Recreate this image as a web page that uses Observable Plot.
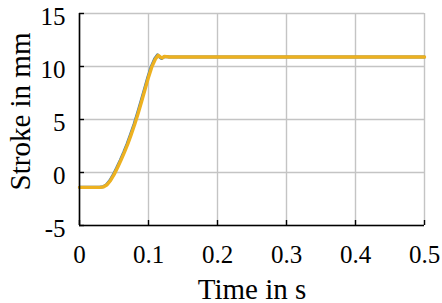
<!DOCTYPE html>
<html>
<head>
<meta charset="utf-8">
<script src="https://cdn.jsdelivr.net/npm/d3@7"></script>
<script src="https://cdn.jsdelivr.net/npm/@observablehq/plot@0.6"></script>
<style>
  html, body { margin: 0; padding: 0; background: #fff; overflow: hidden; }
  #chart svg { display: block; }
  #chart svg, #chart svg text { font-family: "Liberation Serif", "Times New Roman", serif !important; }
</style>
</head>
<body>
<div id="chart"></div>
<script>
// Time samples (s)
const timeOrange = [0, 0.03, 0.035, 0.04, 0.045, 0.05, 0.055, 0.06, 0.065, 0.07, 0.075, 0.08, 0.085, 0.09, 0.095, 0.1, 0.105, 0.11, 0.114, 0.117, 0.12, 0.123, 0.13, 0.5];
const strokeOrange = [-1.4, -1.4, -1.35, -1.15, -0.75, -0.2, 0.45, 1.15, 1.9, 2.7, 3.6, 4.55, 5.6, 6.7, 7.85, 9.0, 10.0, 10.7, 11.05, 10.9, 10.8, 10.95, 10.9, 10.9];

const timeBlue = [0, 0.029, 0.034, 0.039, 0.044, 0.049, 0.054, 0.059, 0.064, 0.069, 0.074, 0.079, 0.084, 0.089, 0.094, 0.099, 0.104, 0.109, 0.113, 0.116, 0.119, 0.122, 0.126, 0.13, 0.5];
const strokeBlue = [-1.4, -1.4, -1.35, -1.15, -0.75, -0.2, 0.45, 1.15, 1.9, 2.7, 3.6, 4.55, 5.6, 6.7, 7.85, 9.0, 10.0, 10.75, 11.1, 10.9, 10.75, 10.9, 10.95, 10.9, 10.9];

const xTicks = [0, 0.1, 0.2, 0.3, 0.4, 0.5];
const yTicks = [-5, 0, 5, 10, 15];
const xTitle = ["Time in s"];
const yTitle = ["Stroke in mm"];

const orange = timeOrange.map((t, i) => ({t, v: strokeOrange[i]}));
const blue = timeBlue.map((t, i) => ({t, v: strokeBlue[i]}));

const chart = Plot.plot({
  width: 442,
  height: 303,
  marginLeft: 79,
  marginRight: 18,
  marginTop: 13,
  marginBottom: 78,
  style: {fontSize: "25px", color: "#000", background: "#fff", overflow: "visible"},
  x: {domain: [0, 0.5], label: null},
  y: {domain: [-5, 15], label: null},
  marks: [
    Plot.gridX(xTicks, {stroke: "#c4c4c4", strokeOpacity: 1, strokeWidth: 1.4}),
    Plot.gridY(yTicks, {stroke: "#c4c4c4", strokeOpacity: 1, strokeWidth: 1.4}),
    Plot.line(blue, {x: "t", y: "v", stroke: "#3f7ab3", strokeWidth: 3}),
    Plot.line(orange, {x: "t", y: "v", stroke: "#EDB120", strokeWidth: 3.4}),
    Plot.ruleX([0], {stroke: "#000", strokeWidth: 1.6}),
    Plot.ruleY([-5], {stroke: "#000", strokeWidth: 1.6}),
    Plot.axisX(xTicks, {tickSize: -5, tickPadding: 25, tickFormat: d => String(d), label: null, fontSize: 25, strokeWidth: 1.4}),
    Plot.axisY(yTicks, {tickSize: 0, tickPadding: 14, tickFormat: d => String(d), label: null, fontSize: 25, dy: 3}),
    Plot.axisY(yTicks, {tickSize: -5, tickFormat: null, text: null, label: null, strokeWidth: 1.4}),
    Plot.text(xTitle, {frameAnchor: "bottom", textAnchor: "middle", lineAnchor: "bottom", dy: 73, fontSize: 29, fill: "#000"}),
    Plot.text(yTitle, {frameAnchor: "left", textAnchor: "middle", lineAnchor: "middle", dx: -59, dy: -8, rotate: -90, fontSize: 29, fill: "#000"})
  ]
});
document.getElementById("chart").appendChild(chart);
</script>
</body>
</html>
